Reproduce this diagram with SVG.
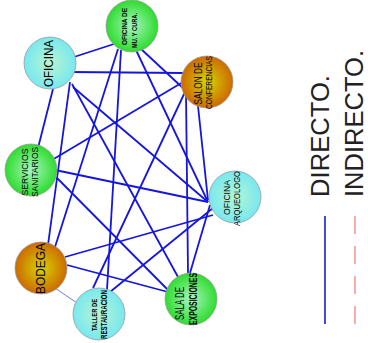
<svg xmlns="http://www.w3.org/2000/svg" width="368" height="343" viewBox="0 0 368 343">
<defs>
<radialGradient id="gc" cx="50%" cy="50%" r="50%"><stop offset="0" stop-color="#b8f5cf"/><stop offset="1" stop-color="#78e8f0"/></radialGradient>
<radialGradient id="gg" cx="50%" cy="50%" r="50%"><stop offset="0" stop-color="#a8f5c0"/><stop offset="1" stop-color="#2edc2e"/></radialGradient>
<radialGradient id="go" cx="50%" cy="50%" r="50%"><stop offset="0" stop-color="#d8d400"/><stop offset="1" stop-color="#cc6a00"/></radialGradient>
</defs>
<style>
.n{stroke:#9a9a9a;stroke-width:0.8}
.c{stroke:#1515e0;stroke-width:1.8;fill:none}
.t{font-family:"Liberation Sans",Arial,sans-serif;fill:#000}
.lg{font-family:"Liberation Sans",Arial,sans-serif;fill:#222;font-size:26px}
</style>
<g id="connectors">
<line class="c" x1="74" y1="57" x2="117" y2="43"/>
<line class="c" x1="70" y1="72" x2="183" y2="73"/>
<line class="c" x1="53" y1="89" x2="38" y2="148"/>
<line class="c" x1="70" y1="82" x2="48" y2="245"/>
<line class="c" x1="72" y1="84" x2="178" y2="277"/>
<line class="c" x1="73" y1="87" x2="208" y2="202"/>
<line class="c" x1="140" y1="48" x2="185" y2="90"/>
<line class="c" x1="118" y1="49" x2="55" y2="247"/>
<line class="c" x1="121" y1="50" x2="107" y2="290"/>
<line class="c" x1="136" y1="50" x2="208" y2="202"/>
<line class="c" x1="183" y1="82" x2="52" y2="160"/>
<line class="c" x1="185" y1="92" x2="93" y2="288"/>
<line class="c" x1="186" y1="92" x2="188" y2="273"/>
<line class="c" x1="198" y1="106" x2="208" y2="200"/>
<line class="c" x1="55" y1="170" x2="208" y2="202"/>
<line class="c" x1="57" y1="178" x2="168" y2="290"/>
<line class="c" x1="65" y1="257" x2="213" y2="215"/>
<line class="c" x1="67" y1="265" x2="168" y2="292"/>
<line x1="55" y1="288" x2="77" y2="303" stroke="#4a5ae0" stroke-width="0.8"/>
<line class="c" x1="213" y1="208" x2="110" y2="292"/>
<line class="c" x1="210" y1="205" x2="190" y2="273"/>
</g>
<g id="oficina">
<circle class="n" cx="50" cy="63" r="26" fill="url(#gc)"/>
<text class="t" transform="translate(53,63.5) rotate(-90)" text-anchor="middle" font-size="13.5" textLength="47" lengthAdjust="spacingAndGlyphs">OFICINA</text>
</g>
<g id="oficina-mu">
<circle class="n" cx="132" cy="26" r="26" fill="url(#gg)"/>
<text class="t" transform="translate(127,26.5) rotate(-90)" text-anchor="middle" font-size="7.5" font-weight="bold" textLength="37" lengthAdjust="spacingAndGlyphs">OFICINA DE</text>
<text class="t" transform="translate(136.5,30.5) rotate(-90)" text-anchor="middle" font-size="8" font-weight="bold" textLength="35" lengthAdjust="spacingAndGlyphs">MU. Y CURA.</text>
</g>
<g id="salon">
<circle class="n" cx="207" cy="82" r="26" fill="url(#go)"/>
<text class="t" transform="translate(202,83.5) rotate(-90)" text-anchor="middle" font-size="10.5" textLength="42" lengthAdjust="spacingAndGlyphs">SALON DE</text>
<text class="t" transform="translate(212,82.5) rotate(-90)" text-anchor="middle" font-size="9.5" textLength="53" lengthAdjust="spacingAndGlyphs">CONFERENCIAS</text>
</g>
<g id="servicios">
<circle class="n" cx="31" cy="170" r="26" fill="url(#gg)"/>
<text class="t" transform="translate(27.5,172) rotate(-90)" text-anchor="middle" font-size="9.5" textLength="47" lengthAdjust="spacingAndGlyphs">SERVICIOS</text>
<text class="t" transform="translate(37.5,172) rotate(-90)" text-anchor="middle" font-size="9.5" textLength="50" lengthAdjust="spacingAndGlyphs">SANITARIOS</text>
</g>
<g id="arqueologo">
<circle class="n" cx="235" cy="197" r="26" fill="url(#gc)"/>
<text class="t" transform="translate(230,197.5) rotate(-90)" text-anchor="middle" font-size="9.5" textLength="35" lengthAdjust="spacingAndGlyphs">OFICINA</text>
<text class="t" transform="translate(240,198.5) rotate(-90)" text-anchor="middle" font-size="9.5" textLength="55" lengthAdjust="spacingAndGlyphs">ARQUEOLOGO</text>
</g>
<g id="bodega">
<circle class="n" cx="41" cy="268" r="26" fill="url(#go)"/>
<text class="t" transform="translate(44.5,268.5) rotate(-90)" text-anchor="middle" font-size="13" textLength="51" lengthAdjust="spacingAndGlyphs">BODEGA</text>
</g>
<g id="taller">
<circle class="n" cx="99" cy="314" r="26" fill="url(#gc)"/>
<text class="t" transform="translate(96.5,315) rotate(-90)" text-anchor="middle" font-size="8" font-weight="bold" textLength="32" lengthAdjust="spacingAndGlyphs">TALLER DE</text>
<text class="t" transform="translate(106.5,314.5) rotate(-90)" text-anchor="middle" font-size="8.5" font-weight="bold" textLength="49" lengthAdjust="spacingAndGlyphs">RESTAURACION</text>
</g>
<g id="sala">
<circle class="n" cx="191" cy="299" r="26" fill="url(#gg)"/>
<text class="t" transform="translate(183.5,303.5) rotate(-90)" text-anchor="middle" font-size="12" textLength="33" lengthAdjust="spacingAndGlyphs">SALA DE</text>
<text class="t" transform="translate(196.5,299) rotate(-90)" text-anchor="middle" font-size="10" font-weight="bold" textLength="52" lengthAdjust="spacingAndGlyphs">EXPOSICIONES</text>
</g>
<g id="legend">
<text class="lg" transform="translate(329,197) rotate(-90)" textLength="122" lengthAdjust="spacingAndGlyphs">DIRECTO.</text>
<text class="lg" transform="translate(363,197) rotate(-90)" textLength="147" lengthAdjust="spacingAndGlyphs">INDIRECTO.</text>
<line x1="325" y1="216" x2="325" y2="324" stroke="#1a1ad0" stroke-width="1.6"/>
<line x1="355" y1="216" x2="355" y2="324" stroke="#f05a5a" stroke-width="1" stroke-dasharray="18 12"/>
</g>
</svg>
